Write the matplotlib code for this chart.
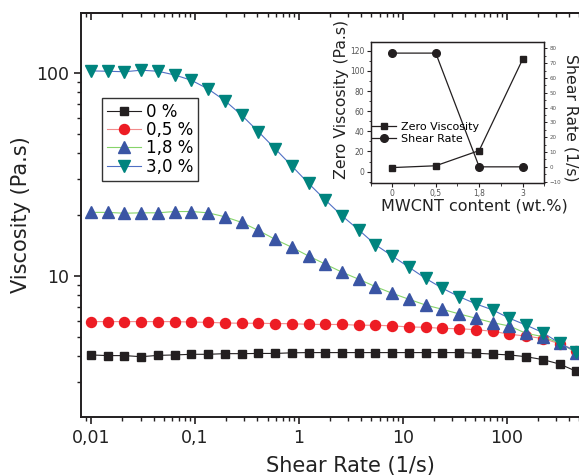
import numpy as np
import matplotlib.pyplot as plt
from matplotlib.ticker import FixedLocator, FixedFormatter, NullFormatter, LogLocator, MultipleLocator

# shear rate sweep (1/s)
shear_rate = [0.01, 0.0145, 0.021, 0.0304, 0.0441, 0.0639, 0.0926, 0.134, 0.1945, 0.282,
              0.408, 0.592, 0.857, 1.24, 1.80, 2.61, 3.78, 5.47, 7.93, 11.5,
              16.6, 24.1, 35.0, 50.7, 73.5, 106.5, 154, 224, 324, 470]

# viscosity (Pa.s) per MWCNT content
visc_0 = [4.07, 4.04, 4.04, 3.99, 4.05, 4.07, 4.10, 4.10, 4.13, 4.13,
          4.14, 4.14, 4.17, 4.18, 4.18, 4.18, 4.18, 4.18, 4.18, 4.18,
          4.18, 4.18, 4.18, 4.15, 4.11, 4.07, 3.99, 3.86, 3.67, 3.38]
visc_05 = [5.94, 5.94, 5.94, 5.94, 5.94, 5.94, 5.91, 5.89, 5.85, 5.83,
           5.83, 5.81, 5.80, 5.76, 5.75, 5.75, 5.70, 5.70, 5.66, 5.59,
           5.57, 5.50, 5.48, 5.42, 5.32, 5.15, 5.04, 4.90, 4.62, 4.28]
visc_18 = [20.5, 20.5, 20.3, 20.4, 20.4, 20.7, 20.7, 20.4, 19.5, 18.3,
           16.7, 15.1, 13.8, 12.5, 11.4, 10.4, 9.6, 8.83, 8.19, 7.65,
           7.17, 6.83, 6.48, 6.17, 5.87, 5.65, 5.20, 5.01, 4.65, 4.18]
visc_30 = [102, 101.6, 101, 102.8, 101.6, 97.4, 91.7, 83.1, 72.8, 61.7,
           51.2, 42.2, 34.7, 28.5, 23.6, 19.7, 16.8, 14.2, 12.5, 11.0,
           9.7, 8.67, 7.88, 7.26, 6.78, 6.17, 5.71, 5.24, 4.65, 4.22]
series_labels = ['0 %', '0,5 %', '1,8 %', '3,0 %']

x_ticks = [0.01, 0.1, 1, 10, 100]
x_ticklabels = ['0,01', '0,1', '1', '10', '100']
y_ticks = [10, 100]
y_ticklabels = ['10', '100']

# inset data
mwcnt_labels = ['0', '0,5', '1,8', '3']
zero_visc = [4.0, 5.8, 20.9, 111.4]
crit_shear = [76.8, 76.8, 0.0, 0.0]

dark = '#231f20'

fig = plt.figure(figsize=(5.79, 4.75), dpi=100)
ax = fig.add_axes([0.1399, 0.1227, 0.9292, 0.8493])

ax.plot(shear_rate, visc_0, '-', color=dark, lw=0.8, marker='s', ms=6.3,
        mfc=dark, mec=dark, label=series_labels[0])
ax.plot(shear_rate, visc_05, '-', color='#f28c8c', lw=0.8, marker='o', ms=7.2,
        mfc='#ed1c24', mec='#ed1c24', label=series_labels[1])
ax.plot(shear_rate, visc_18, '-', color='#86d46a', lw=0.8, marker='^', ms=8,
        mfc='#3a55a4', mec='#3a55a4', label=series_labels[2])
ax.plot(shear_rate, visc_30, '-', color='#4f6fc4', lw=0.8, marker='v', ms=8,
        mfc='#00847e', mec='#00847e', label=series_labels[3])

ax.set_xscale('log')
ax.set_yscale('log')
ax.set_xlim(0.00801, 1208)
ax.set_ylim(2.02, 196)

ax.xaxis.set_major_locator(FixedLocator(x_ticks))
ax.xaxis.set_major_formatter(FixedFormatter(x_ticklabels))
ax.xaxis.set_minor_locator(LogLocator(base=10, subs=np.arange(2, 10)))
ax.xaxis.set_minor_formatter(NullFormatter())
ax.yaxis.set_major_locator(FixedLocator(y_ticks))
ax.yaxis.set_major_formatter(FixedFormatter(y_ticklabels))
ax.yaxis.set_minor_locator(LogLocator(base=10, subs=np.arange(2, 10)))
ax.yaxis.set_minor_formatter(NullFormatter())

for s in ax.spines.values():
    s.set_linewidth(1.4)
    s.set_color(dark)
ax.spines['right'].set_visible(False)
ax.tick_params(which='major', direction='out', length=5, width=1.2, color=dark,
               labelsize=12.5, labelcolor='#222222')
ax.tick_params(which='minor', direction='out', length=3, width=1.0, color=dark)

# inward ticks along the top spine
top = ax.secondary_xaxis('top')
top.xaxis.set_major_locator(FixedLocator(x_ticks))
top.xaxis.set_minor_locator(LogLocator(base=10, subs=np.arange(2, 10)))
top.tick_params(which='major', direction='in', length=5, width=1.2, color=dark, labeltop=False)
top.tick_params(which='minor', direction='in', length=3, width=1.0, color=dark)
top.spines['top'].set_linewidth(1.4)
top.spines['top'].set_color(dark)

ax.set_xlabel('Shear Rate (1/s)', fontsize=15, color='#222222', labelpad=7)
ax.set_ylabel('Viscosity (Pa.s)', fontsize=15, color='#222222', labelpad=4)

leg = ax.legend(loc='upper left', bbox_to_anchor=(0.0396, 0.791), borderaxespad=0,
                fontsize=12, handlelength=2.0, handletextpad=0.3, borderpad=0.3,
                labelspacing=0.02, fancybox=False, framealpha=1)
leg.get_frame().set_edgecolor('#333333')
leg.get_frame().set_linewidth(1.0)

# inset
ax_in = fig.add_axes([0.6402, 0.6154, 0.2998, 0.2968])
ax_in2 = ax_in.twinx()
pos = np.arange(len(mwcnt_labels))
l1, = ax_in.plot(pos, zero_visc, '-', color=dark, lw=0.9, marker='s', ms=5,
                 label='Zero Viscosity')
l2, = ax_in2.plot(pos, crit_shear, '-', color=dark, lw=0.9, marker='o', ms=5.5,
                  label='Shear Rate')
ax_in.set_xlim(-0.5, 3.5)
ax_in.set_ylim(-11, 129)
ax_in2.set_ylim(-10.7, 84.5)
ax_in.set_xticks(pos)
ax_in.set_xticklabels(mwcnt_labels)
ax_in.xaxis.set_minor_locator(MultipleLocator(0.5))
ax_in.yaxis.set_major_locator(MultipleLocator(20))
ax_in.yaxis.set_minor_locator(MultipleLocator(10))
ax_in2.yaxis.set_major_locator(MultipleLocator(10))
ax_in2.yaxis.set_minor_locator(MultipleLocator(5))

for a in (ax_in, ax_in2):
    for s in a.spines.values():
        s.set_linewidth(0.9)
        s.set_color(dark)
ax_in.tick_params(which='major', direction='out', length=3, width=0.8, color=dark,
                  labelsize=5.5, labelcolor='#555555', pad=1.5)
ax_in.tick_params(which='minor', direction='out', length=1.8, width=0.6, color=dark)
ax_in2.tick_params(which='major', direction='out', length=2.5, width=0.7, color=dark,
                   labelsize=4, labelcolor='#555555', pad=1.5)
ax_in2.tick_params(which='minor', direction='out', length=1.5, width=0.6, color=dark)

ax_in.set_xlabel('MWCNT content (wt.%)', fontsize=11.5, color='#222222')
ax_in.xaxis.set_label_coords(0.60, -0.11)
ax_in.set_ylabel('Zero Viscosity (Pa.s)', fontsize=11.3, color='#222222')
ax_in.yaxis.set_label_coords(-0.125, 0.587)
ax_in2.set_ylabel('Shear Rate (1/s)', fontsize=11.3, color='#222222', rotation=270, va='bottom')
ax_in2.yaxis.set_label_coords(1.108, 0.46)

ax_in2.legend([l1, l2], ['Zero Viscosity', 'Shear Rate'], loc='center left',
              bbox_to_anchor=(0.01, 0.352), borderaxespad=0, borderpad=0,
              frameon=False, fontsize=8, handlelength=2.1, handletextpad=0.5,
              labelspacing=0.15)

fig.savefig('out.png', dpi=100)
